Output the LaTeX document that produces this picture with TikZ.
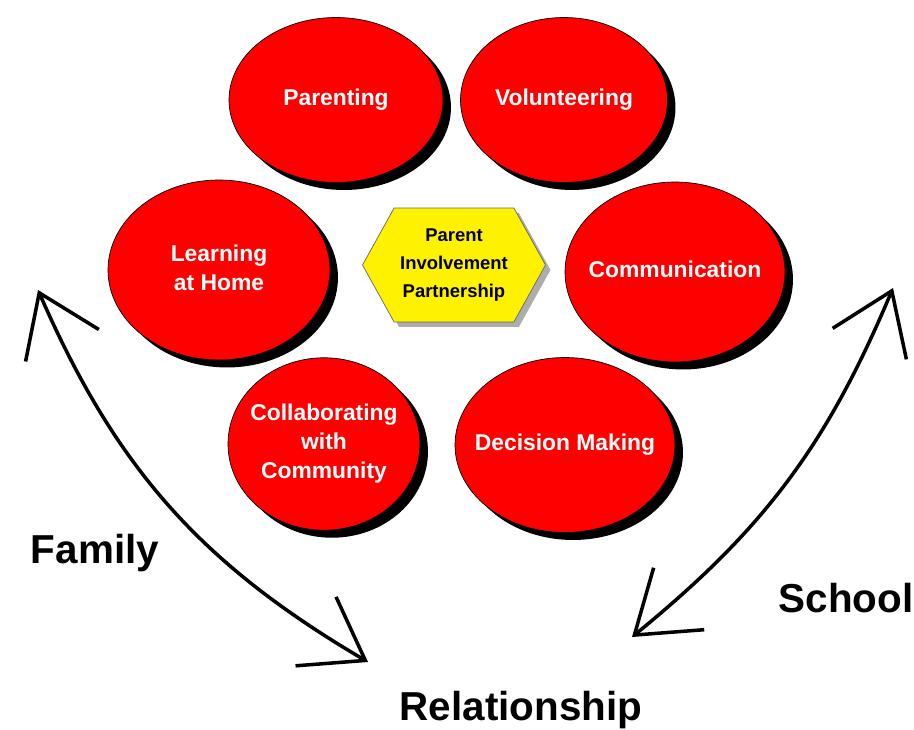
\documentclass[tikz,border=0pt]{standalone}
\usepackage{fontspec}
\setmainfont{Liberation Sans}
\usetikzlibrary{arrows.meta,shapes,shadows,positioning,calc}
\tikzstyle{area}=[ellipse,draw=black,thin,fill=red,text=white,inner sep=0pt,
  font=\fontsize{13}{16.5}\selectfont\bfseries,minimum width=4.3cm,minimum height=3.3cm,
  drop shadow={shadow xshift=0.16cm,shadow yshift=-0.15cm,fill=black,opacity=1}]
\tikzstyle{hub}=[signal,signal to=west and east,signal pointer angle=122,draw=black!60,
  fill=yellow,inner sep=0pt,align=center,font=\fontsize{10.5}{16}\selectfont\bfseries,
  minimum width=3.66cm,minimum height=2.28cm,
  drop shadow={shadow xshift=0.1cm,shadow yshift=-0.1cm,fill=black!40,opacity=0.8}]
\tikzstyle{side label}=[font=\fontsize{23}{28}\selectfont\bfseries]
\tikzstyle{link}=[line width=2pt,{Straight Barb[length=1.15cm,width=1.6cm]}-{Straight Barb[length=1.15cm,width=1.6cm]}]
\newcommand{\ovaltext}[1]{\makebox[0pt]{\begin{tabular}{@{}c@{}}#1\end{tabular}}}

\begin{document}
\begin{tikzpicture}[x=0.02cm,y=-0.02cm]
  \useasboundingbox (0,0) rectangle (914,730);

  % centre of the wheel
  \node[hub] (hub) at (454,265) {Parent\\Involvement\\Partnership};

  % the six areas
  \node[area,minimum width=4.28cm,minimum height=3.3cm] (parenting) at (336,100) {\ovaltext{Parenting}};
  \node[area,minimum width=4.14cm,minimum height=3.3cm] (volunteer) at (564,100) {\ovaltext{Volunteering}};
  \node[area,minimum width=4.44cm,minimum height=3.6cm] (home) at (219,270) {\ovaltext{Learning\\at Home}};
  \node[area,minimum width=4.4cm,minimum height=3.6cm] (communic) at (675,272) {\ovaltext{Communication}};
  \node[area,minimum width=3.84cm,minimum height=3.45cm] (community) at (324,444) {\ovaltext{Collaborating\\with\\Community}};
  \node[area,minimum width=4.4cm,minimum height=3.5cm] (decision) at (565,445) {\ovaltext{Decision Making}};

  % the three partners
  \node[side label] (family) at (95,553) {Family};
  \node[side label] (school) at (846,598) {School};
  \node[side label] (relation) at (521,710) {Relationship};

  \coordinate (famtop) at (38,290);
  \coordinate (relleft) at (368,662);
  \coordinate (relright) at (632,637);
  \coordinate (schtop) at (893,288);

  \draw[link] (famtop) to[bend right=18] (relleft);
  \draw[link] (relright) to[bend right=14] (schtop);
\end{tikzpicture}
\end{document}
